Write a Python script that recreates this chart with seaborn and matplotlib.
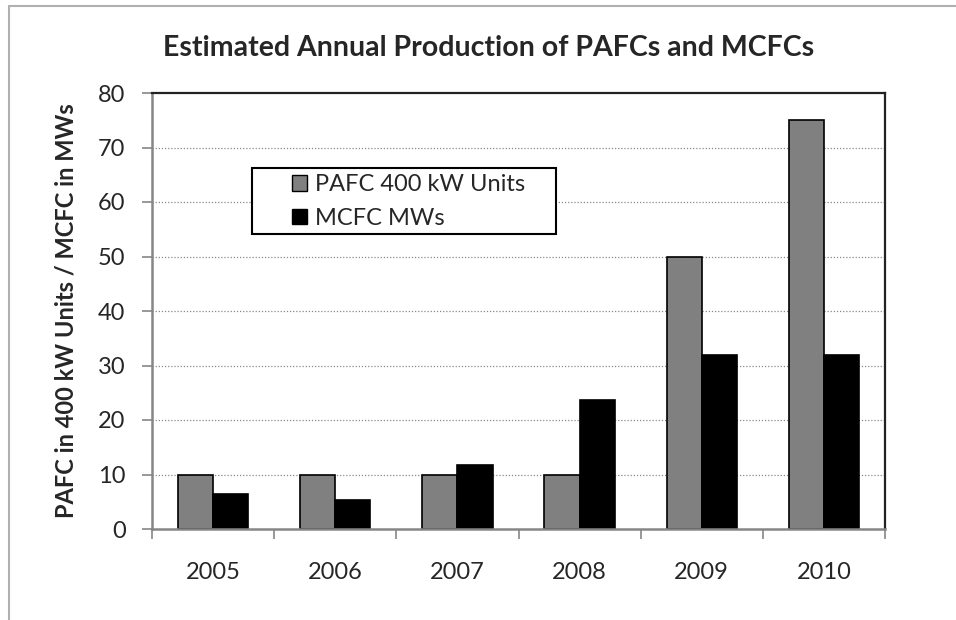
import matplotlib
matplotlib.use("Agg")
import matplotlib.pyplot as plt
import seaborn as sns
import pandas as pd
import numpy as np
from matplotlib.patches import Rectangle
from matplotlib.lines import Line2D

years = ["2005", "2006", "2007", "2008", "2009", "2010"]
pafc_units = [10, 10, 10, 10, 50, 75]
mcfc_mws = [6.5, 5.3, 11.7, 23.7, 32, 32]
series_names = ["PAFC 400 kW Units", "MCFC MWs"]
yticks = [0, 10, 20, 30, 40, 50, 60, 70, 80]

df = pd.DataFrame({
    "Year": years * 2,
    "Value": pafc_units + mcfc_mws,
    "Series": [series_names[0]] * len(years) + [series_names[1]] * len(years),
})

sns.set_theme(style="white")
plt.rcParams['font.family'] = ['Lato', 'DejaVu Sans']

W, H = 956, 620
fig = plt.figure(figsize=(W/100, H/100), dpi=100)
ax = fig.add_axes([152/W, 1-529/H, (885-152)/W, (529-93)/H])

sns.barplot(data=df, x="Year", y="Value", hue="Series", order=years,
            hue_order=series_names, palette=["#808080", "#000000"],
            width=0.575, edgecolor="black", linewidth=1.2, ax=ax, legend=False)

ax.set_ylim(0, 80)
ax.set_xlim(-0.5, len(years) - 0.5)
ax.set_yticks(yticks)
ax.set_yticklabels([str(t) for t in yticks], fontsize=17)
ax.tick_params(axis='y', direction='out', length=7, width=1.2, color='#868686', pad=12, left=True)
ax.tick_params(axis='x', which='major', length=0, labelsize=17, pad=24)
ax.set_xticks(np.arange(-0.5, len(years), 1.0), minor=True)
ax.tick_params(axis='x', which='minor', direction='out', length=7, width=1.2, color='#868686', bottom=True)

for t in yticks[1:-1]:
    ax.axhline(t, color='#888888', linestyle=(0, (1, 1.5)), linewidth=0.9, zorder=0)

for s in ['left', 'bottom']:
    ax.spines[s].set_color('#868686')
    ax.spines[s].set_linewidth(1.8)
for s in ['top', 'right']:
    ax.spines[s].set_color('#222222')
    ax.spines[s].set_linewidth(1.6)
    ax.spines[s].set_visible(True)

ax.set_xlabel("")
ax.set_ylabel("PAFC in 400 kW Units / MCFC in MWs", fontsize=17, fontweight='bold')
ax.yaxis.set_label_coords((78-152)/733, 0.5)

# legend frame (white box with black border)
frame = Rectangle((252/W, 1-234/H), (556-252)/W, (234-168)/H, transform=fig.transFigure,
                  facecolor='white', edgecolor='black', linewidth=1.5, zorder=5)
fig.add_artist(frame)

handles = [Rectangle((0, 0), 1, 1, facecolor="#808080", edgecolor="black", linewidth=1),
           Rectangle((0, 0), 1, 1, facecolor="#000000", edgecolor="black", linewidth=1)]
leg = fig.legend(handles, series_names, loc='upper left', bbox_to_anchor=(292/W, 1-174/H),
                 bbox_transform=fig.transFigure,
                 fontsize=17, frameon=False,
                 handlelength=0.64, handleheight=0.64, handletextpad=0.35, borderpad=0,
                 labelspacing=0.55, borderaxespad=0)
leg.set_zorder(6)

fig.text(489/W, 1-48/H, "Estimated Annual Production of PAFCs and MCFCs",
         ha='center', va='center', fontsize=20.5, fontweight='bold')

# outer chart border
fig.add_artist(Line2D([9/W, 9/W], [0, 1-6/H], transform=fig.transFigure, color='#b0b0b0', linewidth=1.5))
fig.add_artist(Line2D([9/W, 1], [1-6/H, 1-6/H], transform=fig.transFigure, color='#b0b0b0', linewidth=1.5))

fig.savefig("out.png", dpi=100)
